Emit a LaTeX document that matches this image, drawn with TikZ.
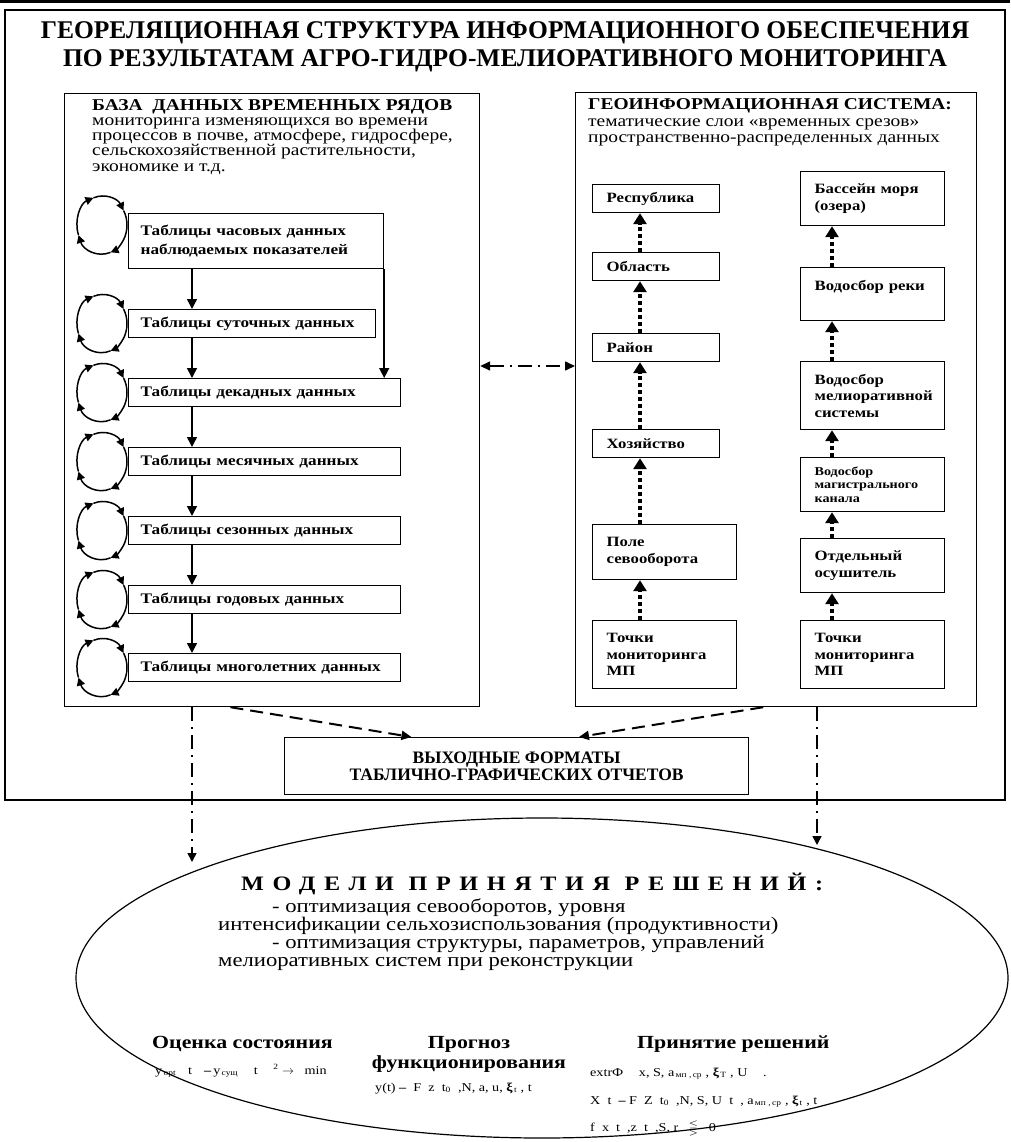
\documentclass[tikz,border=0pt]{standalone}
\usepackage{amssymb}
\usepackage{fontspec}
\setmainfont[FakeStretch=1.18]{Liberation Serif}
\newfontfamily\plainfont[BoldFont={Liberation Serif Bold}]{Liberation Serif}
\newfontfamily\widefont[FakeStretch=1.18,LetterSpace=42]{Liberation Serif}
\usetikzlibrary{arrows.meta,shapes.geometric,calc}
\hyphenpenalty=10000

\tikzset{
  tbl/.style={draw, line width=1.2pt, fill=white, anchor=north west, align=left,
    inner xsep=12pt, inner ysep=0pt, text width=#1,
    font=\bfseries\fontsize{14.6}{19}\selectfont},
  geo/.style={tbl=#1, inner xsep=14pt, font=\bfseries\fontsize{14.2}{16.5}\selectfont},
  panel/.style={draw, line width=1.2pt, anchor=north west, inner sep=0pt},
  downarr/.style={-{Triangle[length=10pt,width=10pt]}, line width=1.5pt},
  uparr/.style={-{Triangle[length=11pt,width=13pt]}, line width=3.5pt, dash pattern=on 4pt off 3pt},
  cycarr/.style={-{Triangle[length=8pt,width=8pt]}, line width=1.5pt},
  ddash/.style={line width=1.5pt, dash pattern=on 14pt off 6pt on 2pt off 6pt},
  dasharr/.style={-{Triangle[length=10pt,width=9pt]}, line width=2pt, dash pattern=on 13pt off 7pt},
  txt/.style={anchor=base west, inner sep=0pt, align=left},
  frm/.style={anchor=base west, inner sep=0pt, font=\fontsize{12}{12}\selectfont}
}

\begin{document}
\begin{tikzpicture}[x=1pt, y=-1pt]
  \useasboundingbox (0,0) rectangle (1010,1142);
  \draw[line width=3pt] (0,2) -- (1010,2);
  \draw[line width=1.2pt] (5,10) rectangle (1005,800);
  \node[font=\plainfont\bfseries\fontsize{25.5}{28}\selectfont, align=center, anchor=base] (title) at (505,67)
    {ГЕОРЕЛЯЦИОННАЯ СТРУКТУРА ИНФОРМАЦИОННОГО ОБЕСПЕЧЕНИЯ\\ПО РЕЗУЛЬТАТАМ АГРО-ГИДРО-МЕЛИОРАТИВНОГО МОНИТОРИНГА};

  % two panels
  \node[panel, minimum width=415pt, minimum height=613pt] (dbase) at (64,93) {};
  \node[panel, minimum width=401pt, minimum height=614pt] (gis) at (575,92) {};
  \node[txt, font=\fontsize{16.5}{15.3}\selectfont] (dbtext) at (92,171.2)
    {\textbf{БАЗА\ \ ДАННЫХ ВРЕМЕННЫХ РЯДОВ}\\мониторинга изменяющихся во времени\\процессов в почве, атмосфере, гидросфере,\\сельскохозяйственной растительности,\\экономике и т.д.};
  \node[txt, font=\fontsize{16.5}{16.5}\selectfont] (gistext) at (588,143)
    {\textbf{ГЕОИНФОРМАЦИОННАЯ СИСТЕМА:}\\тематические слои «временных срезов»\\пространственно-распределенных данных};

  % time series tables
  \node[tbl=231pt, minimum height=55pt] (hour) at (128,213) {Таблицы часовых данных\\наблюдаемых показателей};
  \node[tbl=223pt, minimum height=28pt] (day) at (128,309) {Таблицы суточных данных};
  \node[tbl=248pt, minimum height=28pt] (dec) at (128,378) {Таблицы декадных данных};
  \node[tbl=248pt, minimum height=28pt] (month) at (128,447) {Таблицы месячных данных};
  \node[tbl=248pt, minimum height=28pt] (season) at (128,516) {Таблицы сезонных данных};
  \node[tbl=248pt, minimum height=28pt] (year) at (128,585) {Таблицы годовых данных};
  \node[tbl=248pt, minimum height=28pt] (multi) at (128,653) {Таблицы многолетних данных};

  \coordinate (colA) at (192,0);
  \foreach \a/\b in {hour/day, day/dec, dec/month, month/season, season/year, year/multi}
    \draw[downarr] (\a.south -| colA) -- (\b.north -| colA);
  \draw[downarr] (hour.south east) -- (dec.north -| hour.south east);

  \foreach \n/\dy in {hour/16, day/0, dec/0, month/0, season/0, year/0, multi/0}
    \foreach \a/\b in {200/110, 110/30, 30/-70, -70/-160}
      \draw[cycarr] ([xshift=-26pt,yshift=\dy pt]\n.west) ++(\a:25pt and 29pt)
        arc[start angle=\a, end angle=\b, x radius=25pt, y radius=29pt];

  % GIS layers
  \node[geo=99pt, minimum height=28pt] (rep) at (592,184) {Республика};
  \node[geo=99pt, minimum height=28pt] (obl) at (592,252) {Область};
  \node[geo=99pt, minimum height=28pt] (ray) at (592,333) {Район};
  \node[geo=99pt, minimum height=28pt] (hoz) at (592,429) {Хозяйство};
  \node[geo=116pt, minimum height=55pt] (pole) at (592,524) {Поле\\севооборота};
  \node[geo=116pt, minimum height=68pt] (tochL) at (592,620) {Точки\\мониторинга\\МП};
  \node[geo=116pt, minimum height=54pt] (bass) at (800,171) {Бассейн моря\\(озера)};
  \node[geo=116pt, minimum height=53pt] (reka) at (800,267) {Водосбор реки\\\mbox{}};
  \node[geo=116pt, minimum height=68pt] (melio) at (800,361) {Водосбор\\мелиоративной\\системы};
  \node[geo=116pt, minimum height=54pt, font=\bfseries\fontsize{12}{13.5}\selectfont] (magis) at (800,457) {Водосбор\\магистрального\\канала};
  \node[geo=116pt, minimum height=54pt] (osush) at (800,538) {Отдельный\\осушитель};
  \node[geo=116pt, minimum height=68pt] (tochR) at (800,620) {Точки\\мониторинга\\МП};

  \coordinate (colL) at (640,0);
  \coordinate (colR) at (832,0);
  \foreach \a/\b in {obl/rep, ray/obl, hoz/ray, pole/hoz, tochL/pole}
    \draw[uparr] (\a.north -| colL) -- (\b.south -| colL);
  \foreach \a/\b in {reka/bass, melio/reka, magis/melio, osush/magis, tochR/osush}
    \draw[uparr] (\a.north -| colR) -- (\b.south -| colR);

  \coordinate (linkY) at (0,366);
  \draw[ddash, {Triangle[length=10pt,width=9pt]}-{Triangle[length=10pt,width=9pt]}] (dbase.east |- linkY) -- (gis.west |- linkY);

  % output formats
  \node[draw, line width=1.2pt, anchor=north west, minimum width=464pt, minimum height=57pt, align=center,
    font=\plainfont\bfseries\fontsize{17.5}{17.5}\selectfont] (out) at (284,737) {ВЫХОДНЫЕ ФОРМАТЫ\\ТАБЛИЧНО-ГРАФИЧЕСКИХ ОТЧЕТОВ};
  \draw[dasharr] ($(dbase.south west)!0.4!(dbase.south east)$) -- ($(out.north west)!0.274!(out.north east)$);
  \draw[dasharr] ($(gis.south west)!0.468!(gis.south east)$) -- ($(out.north west)!0.634!(out.north east)$);

  % decision models
  \node[draw, ellipse, line width=1.2pt, minimum width=932pt, minimum height=320pt, inner sep=0pt] (models) at (542,978) {};
  \coordinate (tipL) at (192,862);
  \coordinate (tipR) at (817,845);
  \draw[ddash, -{Triangle[length=9pt,width=9pt]}] (dbase.south -| tipL) -- (tipL);
  \draw[ddash, -{Triangle[length=9pt,width=9pt]}] (gis.south -| tipR) -- (tipR);

  \node[txt, font=\widefont\bfseries\fontsize{20.5}{20}\selectfont] (mhead) at (241,890) {МОДЕЛИ ПРИНЯТИЯ РЕШЕНИЙ:};
  \node[txt, font=\fontsize{19.2}{18}\selectfont] (mtext) at (218,966)
    {\hspace*{54pt}- оптимизация севооборотов, уровня\\интенсификации сельхозиспользования (продуктивности)\\\hspace*{54pt}- оптимизация структуры, параметров, управлений\\мелиоративных систем при реконструкции};

  \node[txt, font=\bfseries\fontsize{18.5}{20}\selectfont] (est) at (152,1048) {Оценка состояния};
  \node[anchor=base, inner sep=0pt, align=center, font=\bfseries\fontsize{18.5}{20}\selectfont] (prog) at (469,1068) {Прогноз\\функционирования};
  \node[txt, font=\bfseries\fontsize{18.5}{20}\selectfont] (decis) at (637,1048) {Принятие решений};

  \node[frm] (f1) at (155,1074)
    {y\textsubscript{\,opt}\quad t\quad \textbf{–}\,y\textsubscript{\,сущ}\quad\ t\quad\ \textsuperscript{2} $\rightarrow$\ \ \ min};
  \node[frm] (f2) at (375,1091)
    {y(t)\ \textbf{–}\ \ F\ \ z\ \ t\textsubscript{0}\ \ ,N, a, u,\ \textbf{ξ}\textsubscript{\,t}\ , t};
  \node[frm] (f3) at (590,1076)
    {extrФ\quad\ x, S, a\textsubscript{\,мп\ ,\,ср}\ , \textbf{ξ}\textsubscript{\,T}\ , U\quad\ .};
  \node[frm] (f4) at (590,1104)
    {X\ \ t\ \ \textbf{–}\ F\ \ Z\ \ t\textsubscript{0}\ \ ,N, S, U\ \ t\ \ , a\textsubscript{\,мп\ ,\,ср}\ , \textbf{ξ}\textsubscript{\,t}\ , t};
  \node[frm] (f5) at (590,1131)
    {f\ \ x\ \ t\ \ ,z\ \ t\ \ ,S, r\ \ \ $\lesseqgtr$\ \ \ 0};
\end{tikzpicture}
\end{document}
